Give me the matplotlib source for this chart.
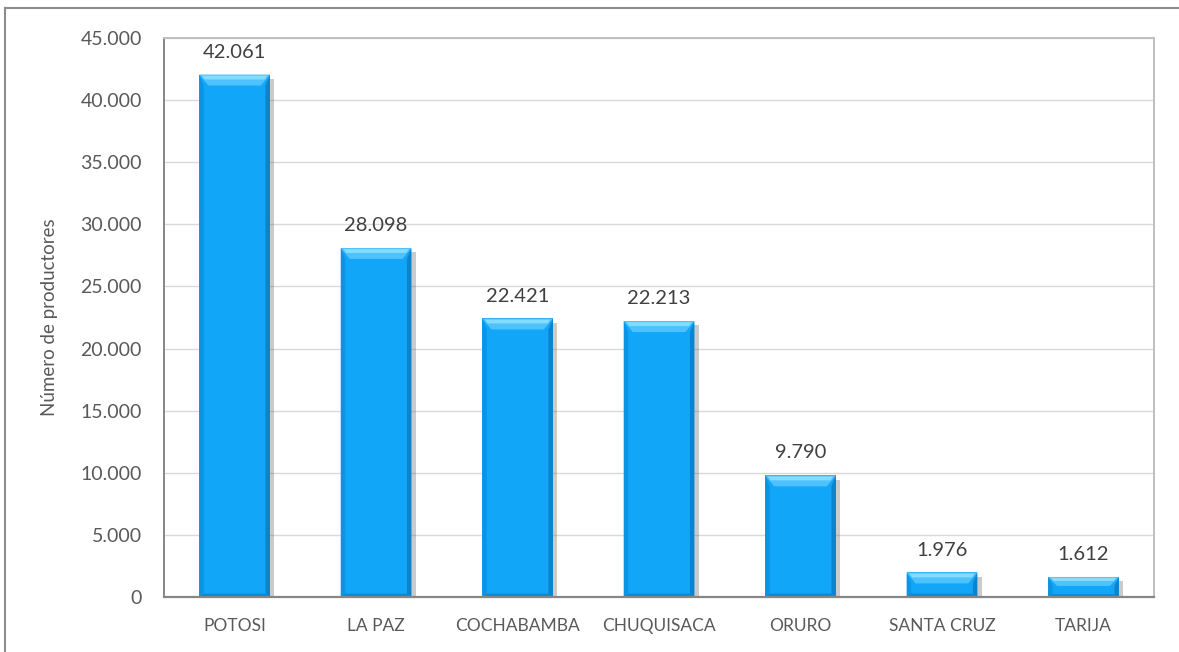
import matplotlib
matplotlib.use("Agg")
import matplotlib.pyplot as plt
import matplotlib.patheffects as pe
from matplotlib.patches import Polygon
from matplotlib.lines import Line2D

departamentos = ["POTOSI", "LA PAZ", "COCHABAMBA", "CHUQUISACA", "ORURO", "SANTA CRUZ", "TARIJA"]
productores = [42061, 28098, 22421, 22213, 9790, 1976, 1612]
yticks = [0, 5000, 10000, 15000, 20000, 25000, 30000, 35000, 40000, 45000]

plt.rcParams['font.family'] = ['Lato', 'DejaVu Sans']
TXT = '#595959'


def fmt(v):
    return f"{v:,}".replace(",", ".")


fig = plt.figure(figsize=(11.79, 6.52), dpi=100)
ax = fig.add_axes([0.139, 0.0844, 0.84, 0.8573])

x = list(range(len(departamentos)))
bars = ax.bar(x, productores, width=0.5, color='#12A6F8', zorder=3,
              path_effects=[pe.SimplePatchShadow(offset=(3, -3), shadow_rgbFace='#555555', alpha=0.3),
                            pe.Normal()])

ax.set_xlim(-0.5, len(departamentos) - 0.5)
ax.set_ylim(0, 45000)

# bevel on each bar (sizes in pixels converted to data units)
fig.canvas.draw()
px_x = 1.0 / (ax.get_window_extent().width / 7.0)
px_y = 45000.0 / ax.get_window_extent().height
bx, by = 9 * px_x, 11 * px_y
for b in bars:
    x0, w, h = b.get_x(), b.get_width(), b.get_height()
    x1 = x0 + w
    dy = min(by, h * 0.45)
    dx = min(bx, w * 0.2)
    # top face
    ax.add_patch(Polygon([(x0, h), (x1, h), (x1 - dx, h - dy), (x0 + dx, h - dy)],
                         closed=True, color='#4EC2FE', zorder=4, lw=0))
    ax.add_patch(Polygon([(x0 + dx * 0.3, h - dy * 0.1), (x1 - dx * 0.3, h - dy * 0.1),
                          (x1 - dx * 0.6, h - dy * 0.45), (x0 + dx * 0.6, h - dy * 0.45)],
                         closed=True, color='#86DCFF', zorder=4, lw=0))
    # sides
    ax.add_patch(Polygon([(x0, h), (x0 + dx * 0.5, h - dy), (x0 + dx * 0.5, dy * 0.3), (x0, 0)],
                         closed=True, color='#0C94E4', zorder=4, lw=0))
    ax.add_patch(Polygon([(x1, h), (x1 - dx * 0.5, h - dy), (x1 - dx * 0.5, dy * 0.3), (x1, 0)],
                         closed=True, color='#0B84D0', zorder=4, lw=0))
    ax.add_patch(Polygon([(x0, 0), (x1, 0), (x1 - dx * 0.5, dy * 0.3), (x0 + dx * 0.5, dy * 0.3)],
                         closed=True, color='#0B88D4', zorder=4, lw=0))
    ax.annotate(fmt(h), (b.get_x() + w / 2, h), xytext=(0, 10), textcoords='offset points',
                ha='center', va='bottom', fontsize=14.5, color='#404040')

ax.set_yticks(yticks)
ax.set_yticklabels([fmt(v) for v in yticks])
ax.set_xticks(x)
ax.set_xticklabels(departamentos)
ax.tick_params(axis='y', length=0, pad=16, labelsize=14, labelcolor=TXT)
ax.tick_params(axis='x', length=0, pad=15, labelsize=12.5, labelcolor=TXT)
ax.grid(axis='y', color='#D9D9D9', lw=1, zorder=0)
ax.set_axisbelow(True)

ax.spines['bottom'].set_color('#868686')
ax.spines['bottom'].set_linewidth(1.6)
ax.spines['bottom'].set_zorder(5)
ax.spines['left'].set_color('#868686')
ax.spines['left'].set_linewidth(1.4)
ax.spines['top'].set_color('#BFBFBF')
ax.spines['top'].set_linewidth(1.4)
ax.spines['right'].set_color('#BFBFBF')
ax.spines['right'].set_linewidth(1.4)

ax.set_ylabel("Número de productores", fontsize=13.5, color=TXT, labelpad=16)

# outer frame
fig.add_artist(Line2D([0.0042, 0.0042], [0.9877, 0.0], color='#8C8C8C', lw=1.5))
fig.add_artist(Line2D([0.0042, 1.0], [0.9877, 0.9877], color='#8C8C8C', lw=1.5))

fig.savefig("out.png", dpi=100)
